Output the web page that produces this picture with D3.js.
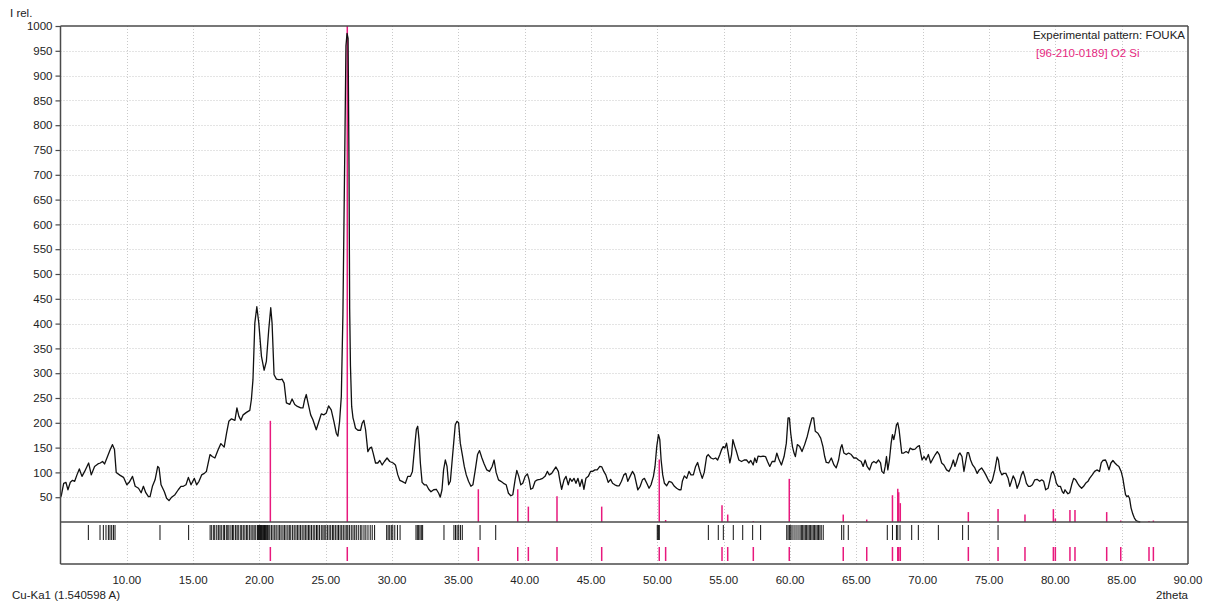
<!DOCTYPE html>
<html><head><meta charset="utf-8">
<script src="https://cdn.jsdelivr.net/npm/d3@7"></script>
<style>
body{margin:0;background:#fff;}
text{font-family:"Liberation Sans",Arial,sans-serif;font-size:11.5px;fill:#222;}
</style>
</head><body>
<svg id="chart" width="1206" height="605"></svg>
<script>
// Experimental powder pattern: [2theta (deg), relative intensity]
const pattern = [
[5.00,50],[5.06,53],[5.24,78],[5.41,80],[5.56,65],[5.74,80],[5.91,84],[6.07,82],[6.24,95],[6.42,107],[6.62,92],[6.82,102],[7.12,119],[7.32,95],[7.57,112],[7.82,117],[8.00,119],[8.17,122],[8.32,117],[8.50,129],[8.75,146],[8.92,156],[9.07,146],[9.20,100],[9.50,94],[9.75,90],[10.00,75],[10.18,80],[10.43,92],[10.63,72],[10.88,68],[11.08,59],[11.25,72],[11.43,59],[11.63,51],[11.75,51],[11.93,72],[12.13,85],[12.33,112],[12.43,109],[12.58,75],[12.83,61],[13.00,48],[13.18,43],[13.38,50],[13.63,55],[13.88,65],[14.08,72],[14.26,72],[14.46,75],[14.64,90],[14.84,75],[15.09,88],[15.26,75],[15.44,82],[15.64,95],[15.84,98],[16.00,102],[16.27,136],[16.44,132],[16.64,129],[16.89,146],[17.09,158],[17.34,151],[17.52,179],[17.69,203],[17.89,208],[18.15,205],[18.30,230],[18.45,213],[18.60,205],[18.77,216],[19.02,221],[19.27,225],[19.39,247],[19.51,287],[19.65,401],[19.80,434],[19.95,401],[20.15,334],[20.35,306],[20.52,324],[20.70,388],[20.85,432],[20.95,401],[21.10,297],[21.28,288],[21.45,287],[21.60,287],[21.70,288],[21.86,280],[22.03,240],[22.28,237],[22.46,248],[22.66,237],[22.86,233],[23.11,230],[23.28,230],[23.41,247],[23.53,257],[23.66,240],[23.86,216],[24.03,206],[24.28,186],[24.46,201],[24.66,218],[24.86,216],[25.04,220],[25.21,234],[25.41,226],[25.61,203],[25.79,179],[25.91,173],[26.04,203],[26.17,253],[26.29,418],[26.42,720],[26.52,960],[26.60,985],[26.68,975],[26.75,720],[26.80,430],[26.86,314],[26.95,233],[27.05,210],[27.12,203],
[27.24,189],[27.42,185],[27.62,185],[27.74,199],[27.87,205],[28.00,186],[28.17,142],[28.32,149],[28.45,151],[28.57,139],[28.75,119],[28.92,119],[29.07,124],[29.25,115],[29.42,122],[29.62,129],[29.82,122],[30.08,119],[30.25,115],[30.43,95],[30.58,84],[30.75,82],[31.00,78],[31.18,92],[31.38,92],[31.53,102],[31.68,146],[31.83,187],[31.93,193],[32.03,166],[32.13,119],[32.26,80],[32.43,75],[32.58,75],[32.76,66],[32.93,61],[33.13,65],[33.33,66],[33.51,58],[33.63,50],[33.76,65],[33.88,105],[34.01,125],[34.14,112],[34.26,75],[34.39,82],[34.51,119],[34.64,159],[34.76,196],[34.89,203],[35.01,200],[35.14,159],[35.29,136],[35.44,112],[35.59,95],[35.76,82],[35.94,72],[36.09,75],[36.27,105],[36.44,136],[36.59,144],[36.77,129],[36.94,117],[37.14,105],[37.34,102],[37.54,112],[37.69,125],[37.84,100],[38.02,85],[38.20,82],[38.40,78],[38.60,75],[38.77,58],[38.95,53],[39.10,55],[39.27,85],[39.40,104],[39.55,92],[39.70,75],[39.85,78],[40.03,92],[40.20,97],[40.33,85],[40.45,66],[40.60,68],[40.78,82],[40.95,85],[41.15,86],[41.35,88],[41.53,92],[41.70,102],[41.85,95],[42.03,98],[42.20,105],[42.35,111],[42.53,102],[42.66,82],[42.78,66],[42.96,85],[43.11,92],[43.28,75],[43.41,88],[43.56,82],[43.71,88],[43.86,78],[44.01,88],[44.16,72],[44.31,86],[44.46,66],[44.61,88],[44.79,92],[44.96,102],[45.11,102],[45.29,105],[45.46,105],[45.66,112],[45.81,111],[45.96,102],[46.11,95],[46.29,80],[46.47,86],[46.62,78],[46.79,75],[46.97,73],[47.12,73],[47.29,82],[47.47,95],[47.62,98],
[47.77,82],[47.94,92],[48.12,102],[48.27,95],[48.52,65],[48.70,72],[48.87,85],[49.02,88],[49.20,78],[49.37,68],[49.52,75],[49.70,92],[49.82,112],[49.95,152],[50.08,176],[50.18,166],[50.28,125],[50.40,95],[50.53,78],[50.70,73],[50.88,82],[51.08,80],[51.28,72],[51.45,68],[51.63,65],[51.78,65],[51.88,82],[52.03,93],[52.21,88],[52.38,102],[52.53,95],[52.71,95],[52.88,112],[53.03,120],[53.21,102],[53.38,88],[53.53,100],[53.71,132],[53.83,136],[54.04,129],[54.21,127],[54.39,129],[54.54,125],[54.71,136],[54.84,146],[54.96,152],[55.09,149],[55.21,159],[55.34,139],[55.46,119],[55.59,136],[55.69,166],[55.84,152],[55.96,142],[56.14,125],[56.34,122],[56.54,125],[56.72,125],[56.89,119],[57.04,124],[57.22,115],[57.34,129],[57.47,120],[57.59,133],[57.79,132],[57.97,133],[58.15,132],[58.30,122],[58.47,112],[58.65,122],[58.85,122],[59.00,139],[59.15,127],[59.35,115],[59.55,132],[59.72,159],[59.85,210],[59.95,210],[60.05,179],[60.18,152],[60.30,139],[60.40,132],[60.55,156],[60.73,152],[60.90,142],[61.10,156],[61.30,173],[61.48,193],[61.65,210],[61.78,210],[61.90,183],[62.10,179],[62.31,169],[62.48,152],[62.61,132],[62.73,120],[62.91,119],[63.11,129],[63.31,115],[63.48,109],[63.66,125],[63.81,149],[63.91,156],[64.06,139],[64.24,136],[64.41,139],[64.61,136],[64.81,129],[64.99,129],[65.16,125],[65.36,122],[65.51,112],[65.66,125],[65.81,112],[65.99,105],[66.17,119],[66.32,122],[66.49,119],[66.67,125],[66.82,119],[66.92,102],[67.07,98],[67.17,112],[67.27,132],[67.37,105],[67.49,125],[67.62,159],[67.72,176],[67.82,166],[67.92,179],[68.02,196],[68.12,200],[68.22,186],[68.32,162],[68.42,139],[68.57,139],[68.75,142],[68.92,139],
[69.05,149],[69.25,146],[69.42,147],[69.60,152],[69.75,154],[69.85,139],[69.95,125],[70.10,132],[70.25,125],[70.43,136],[70.60,119],[70.80,129],[70.95,136],[71.10,142],[71.25,136],[71.43,119],[71.60,115],[71.80,105],[71.98,102],[72.16,112],[72.31,125],[72.43,112],[72.56,122],[72.71,136],[72.81,139],[72.96,132],[73.11,102],[73.26,125],[73.36,140],[73.46,140],[73.61,125],[73.76,115],[73.93,109],[74.11,98],[74.26,105],[74.44,109],[74.61,102],[74.76,95],[74.94,85],[75.11,78],[75.26,85],[75.44,105],[75.61,131],[75.71,125],[75.81,105],[75.96,95],[76.11,98],[76.27,98],[76.44,88],[76.57,72],[76.69,82],[76.82,93],[76.97,85],[77.12,68],[77.27,78],[77.44,95],[77.57,102],[77.69,92],[77.82,78],[77.97,72],[78.12,72],[78.27,75],[78.45,85],[78.62,86],[78.82,82],[78.97,85],[79.12,82],[79.27,65],[79.45,68],[79.57,82],[79.70,98],[79.82,102],[79.95,93],[80.08,78],[80.23,72],[80.38,72],[80.53,61],[80.63,58],[80.73,65],[80.83,61],[80.95,57],[81.08,59],[81.23,75],[81.38,88],[81.53,85],[81.68,78],[81.83,72],[81.98,68],[82.13,72],[82.28,78],[82.46,82],[82.58,88],[82.78,95],[82.96,102],[83.13,105],[83.33,102],[83.46,119],[83.58,124],[83.78,125],[83.88,119],[84.04,105],[84.19,119],[84.34,124],[84.49,119],[84.64,115],[84.79,112],[84.96,102],[85.09,88],[85.21,68],[85.29,55],[85.39,51],[85.49,53],[85.59,48],[85.71,28],[85.84,16],[85.96,8],[86.09,3],[86.21,1],[86.40,0]
];

// Reference card 96-210-0189 (O2 Si): line positions and relative intensities
const refTheta = [20.82,26.62,36.50,39.47,40.27,42.43,45.80,50.14,50.62,54.87,55.30,57.23,59.94,64.01,65.78,67.72,68.12,68.19,68.31,73.44,75.68,77.71,79.85,80.00,81.10,81.48,83.87,84.93,87.06,87.39];
const refIntensity = [204,1000,66,66,31,52,31,126,4,34,15,2,87,15,5,54,67,60,38,20,26,15,26,7,24,24,20,3,2,3];

// Peak markers found in the experimental pattern (2theta)
const foundPeaks = [7.10,7.98,8.23,8.43,8.61,8.73,8.86,8.99,9.11,12.50,14.66,
16.28,16.40,16.55,16.63,16.78,16.90,17.02,17.12,17.27,17.36,17.50,17.61,17.70,17.85,17.97,18.06,18.20,18.31,18.40,18.55,18.66,18.78,18.90,19.03,19.12,19.26,19.37,19.50,19.60,19.72,19.85,19.93,20.00,20.08,20.15,20.22,20.30,20.38,20.45,20.52,20.60,20.70,20.78,20.90,21.02,21.15,21.26,21.40,21.52,21.63,21.77,21.88,22.00,22.14,22.25,22.36,22.50,22.62,22.75,22.86,22.98,23.10,23.22,23.35,23.46,23.58,23.70,23.80,23.92,24.05,24.17,24.30,24.40,24.52,24.66,24.78,24.88,25.00,25.12,25.25,25.37,25.50,25.60,25.72,25.85,25.96,26.08,26.20,26.32,26.45,26.58,26.66,26.78,26.92,27.05,27.18,27.30,27.45,27.60,27.72,27.88,28.02,28.18,28.35,28.50,28.68,
29.59,29.70,29.82,29.94,30.05,30.20,30.40,30.60,31.80,31.90,32.00,32.10,32.20,32.30,33.91,34.66,34.78,34.90,35.02,35.15,35.29,36.63,37.81,49.99,50.05,50.10,50.14,53.84,54.59,54.97,55.72,56.43,57.18,57.78,
59.75,59.85,59.95,60.05,60.15,60.30,60.45,60.60,60.75,60.85,60.95,61.05,61.15,61.25,61.35,61.45,61.55,61.65,61.75,61.85,61.95,62.05,62.15,62.25,62.35,62.50,
63.89,64.05,64.39,67.33,67.72,68.02,68.12,68.29,69.17,69.67,71.18,73.01,73.44,75.68];

const yTickValues = d3.range(50, 1001, 50);
const xTickValues = d3.range(10, 91, 5);

const svg = d3.select("#chart");
const plotLeft = 60.5, plotRight = 1188, plotTop = 26, plotBase = 522, plotBottom = 564;

const x = d3.scaleLinear().domain([5, 90]).range([plotLeft, plotRight]);
const y = d3.scaleLinear().domain([0, 1000]).range([plotBase, plotTop]);

// dotted grid
const grid = svg.append("g").attr("stroke", "#c9c9c9").attr("stroke-width", 1).attr("stroke-dasharray", "1,2");
grid.selectAll("line.h").data(yTickValues.filter(v => v < 1000)).join("line").attr("class", "h")
  .attr("x1", plotLeft).attr("x2", plotRight)
  .attr("y1", d => Math.round(y(d)) + 0.5).attr("y2", d => Math.round(y(d)) + 0.5);
grid.selectAll("line.v").data(xTickValues.filter(v => v < 90)).join("line").attr("class", "v")
  .attr("y1", plotTop).attr("y2", plotBottom)
  .attr("x1", d => Math.round(x(d)) + 0.5).attr("x2", d => Math.round(x(d)) + 0.5);

// reference sticks
svg.append("g").selectAll("line").data(refTheta).join("line")
  .attr("x1", d => x(d)).attr("x2", d => x(d))
  .attr("y1", y(0)).attr("y2", (d, i) => y(refIntensity[i]))
  .attr("stroke", "#e8197d").attr("stroke-width", 1.5);

// experimental curve
svg.append("path").datum(pattern)
  .attr("fill", "none").attr("stroke", "#111").attr("stroke-width", 1.3)
  .attr("stroke-linejoin", "round")
  .attr("d", d3.line().x(d => x(d[0])).y(d => y(d[1])));

// peak marker rows
svg.append("g").selectAll("line").data(foundPeaks).join("line")
  .attr("x1", d => x(d)).attr("x2", d => x(d))
  .attr("y1", 525).attr("y2", 540)
  .attr("stroke", "#111").attr("stroke-width", 1);
svg.append("g").selectAll("line").data(refTheta).join("line")
  .attr("x1", d => x(d)).attr("x2", d => x(d))
  .attr("y1", 547).attr("y2", 561)
  .attr("stroke", "#e8197d").attr("stroke-width", 1.5);

// frame
const frame = svg.append("g").attr("stroke", "#4a4a4a").attr("stroke-width", 1.5).attr("fill", "none");
frame.append("line").attr("x1", plotLeft).attr("x2", plotRight).attr("y1", plotTop).attr("y2", plotTop);
frame.append("line").attr("x1", plotRight).attr("x2", plotRight).attr("y1", plotTop).attr("y2", plotBottom);
frame.append("line").attr("x1", plotLeft).attr("x2", plotLeft).attr("y1", plotTop).attr("y2", plotBottom);
frame.append("line").attr("x1", plotLeft).attr("x2", plotRight).attr("y1", plotBottom).attr("y2", plotBottom);
frame.append("line").attr("x1", plotLeft).attr("x2", plotRight).attr("y1", plotBase).attr("y2", plotBase);

// y axis
const yAxis = d3.axisLeft(y).tickValues(yTickValues).tickSize(5).tickPadding(3).tickFormat(d3.format("d"));
const ya = svg.append("g").attr("transform", `translate(${plotLeft},0)`).call(yAxis);
ya.select(".domain").remove();
ya.selectAll(".tick line").attr("stroke", "#4a4a4a").attr("stroke-width", 1.2);
ya.selectAll(".tick text").attr("fill", "#222");
ya.attr("font-family", null).attr("font-size", null);

// x tick labels
svg.append("g").selectAll("text").data(xTickValues).join("text")
  .attr("x", d => x(d)).attr("y", 584).attr("text-anchor", "middle")
  .text(d => d3.format(".2f")(d));

svg.append("text").attr("x", 10).attr("y", 16.5).text("I rel.");
svg.append("text").attr("x", 12).attr("y", 598.5).text("Cu-Ka1 (1.540598 A)");
svg.append("text").attr("x", 1188).attr("y", 599).attr("text-anchor", "end").text("2theta");

// legend
svg.append("text").attr("x", 1185).attr("y", 39).attr("text-anchor", "end").text("Experimental pattern: FOUKA");
svg.append("text").attr("x", 1036).attr("y", 57).style("fill", "#e5287f").text("[96-210-0189] O2 Si");
</script>
</body></html>
